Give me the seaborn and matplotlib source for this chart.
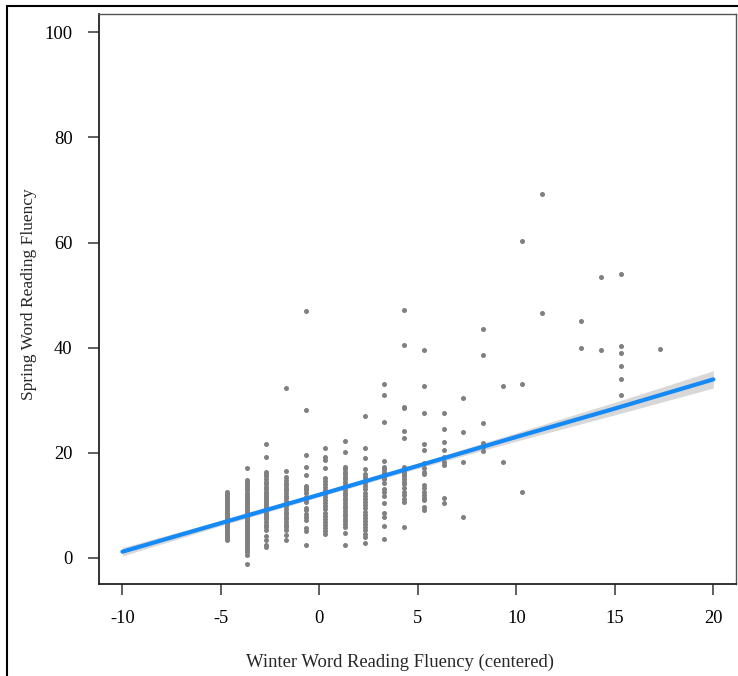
import numpy as np
import pandas as pd
import matplotlib
matplotlib.use("Agg")
import matplotlib.pyplot as plt
from matplotlib.lines import Line2D
import seaborn as sns

# ---- data ----
winter_levels = [-4.7, -3.7, -2.7, -1.7, -0.7, 0.3, 1.3, 2.3, 3.3, 4.3, 5.3,
                 6.3, 7.3, 8.3, 9.3, 10.3, 11.3, 13.3, 14.3, 15.3, 17.3]

spring_m4_7 = [3.3, 3.7, 4.1, 4.5, 4.9, 5.2, 5.5, 5.8, 6.1, 6.4, 6.7, 7.0, 7.2, 7.5, 7.8,
               8.0, 8.3, 8.6, 8.9, 9.2, 9.5, 9.8, 10.1, 10.4, 10.7, 11.0, 11.4, 11.8, 12.2, 12.6]
spring_m3_7 = [-1.1, 0.6, 1.0, 1.4, 1.8, 2.2, 2.6, 3.0, 3.3, 3.6, 3.9, 4.2, 4.5, 4.8, 5.1,
               5.4, 5.7, 6.0, 6.3, 6.6, 6.9, 7.2, 7.5, 7.8, 8.1, 8.4, 8.7, 9.0, 9.3, 9.6,
               9.9, 10.2, 10.5, 10.8, 11.1, 11.4, 11.7, 12.0, 12.4, 12.8, 13.2, 13.6, 14.0,
               14.4, 14.8, 17.0]
spring_m2_7 = [2.1, 2.5, 3.4, 4.1, 5.3, 5.8, 6.3, 6.8, 7.3, 7.8, 8.2, 8.6, 9.0, 9.4, 9.8,
               10.2, 10.6, 11.0, 11.4, 11.8, 12.2, 12.6, 13.0, 13.5, 14.0, 14.5, 15.0, 15.5,
               16.0, 16.4, 19.1, 21.6]
spring_m1_7 = [3.4, 4.3, 5.3, 5.8, 6.3, 6.8, 7.3, 7.8, 8.3, 8.8, 9.3, 9.8, 10.3, 10.8, 11.3,
               11.8, 12.3, 12.8, 13.3, 13.8, 14.3, 14.8, 15.4, 16.6, 32.4]
spring_m0_7 = [2.5, 5.0, 5.6, 7.2, 7.8, 8.4, 9.0, 9.5, 10.6, 11.0, 11.5, 12.3, 12.8, 13.2,
               13.7, 15.7, 17.2, 19.6, 28.2, 47.0]
spring_0_3 = [4.6, 5.0, 5.6, 6.2, 6.8, 7.4, 8.0, 8.6, 9.2, 9.8, 10.4, 11.0, 11.6, 12.2, 12.8,
              13.4, 14.0, 14.6, 15.1, 17.1, 18.6, 19.1, 20.8]
spring_1_3 = [2.5, 4.8, 5.9, 6.4, 6.9, 7.4, 7.9, 8.4, 8.9, 9.4, 9.9, 10.4, 10.9, 11.4, 11.9,
              12.4, 12.9, 13.4, 13.9, 14.4, 14.9, 15.4, 15.9, 16.4, 16.8, 17.2, 20.2, 22.2]
spring_2_3 = [2.8, 4.0, 4.6, 5.2, 5.8, 6.4, 7.0, 7.6, 8.2, 8.8, 9.4, 10.0, 10.6, 11.2, 11.8,
              12.4, 13.0, 13.6, 14.2, 14.8, 15.4, 16.0, 16.8, 19.0, 20.8, 26.9]
spring_3_3 = [3.6, 6.1, 7.8, 8.5, 10.5, 11.8, 12.6, 13.0, 14.3, 14.9, 15.4, 16.0, 16.4, 16.8,
              17.2, 18.5, 25.9, 30.9, 33.0]
spring_4_3 = [5.8, 10.6, 11.2, 12.0, 12.5, 13.2, 14.0, 14.5, 15.0, 15.5, 16.0, 16.4, 16.8,
              17.2, 22.7, 24.1, 28.5, 28.7, 40.5, 47.1]
spring_5_3 = [9.1, 9.7, 11.0, 11.3, 11.9, 12.6, 13.2, 13.8, 15.9, 16.4, 17.0, 18.0, 20.5,
              21.7, 27.5, 32.6, 39.6]
spring_6_3 = [10.5, 11.4, 17.7, 18.3, 19.2, 20.5, 22.0, 24.6, 27.5]
spring_7_3 = [7.7, 18.3, 24.0, 30.5]
spring_8_3 = [20.4, 21.1, 21.8, 25.6, 38.5, 43.6]
spring_9_3 = [18.3, 32.6]
spring_10_3 = [12.5, 33.0, 60.2]
spring_11_3 = [46.6, 69.3]
spring_13_3 = [40.0, 45.0]
spring_14_3 = [39.6, 53.4]
spring_15_3 = [31.0, 34.1, 36.5, 38.9, 40.4, 54.1]
spring_17_3 = [39.7]

spring_by_level = [spring_m4_7, spring_m3_7, spring_m2_7, spring_m1_7, spring_m0_7,
                   spring_0_3, spring_1_3, spring_2_3, spring_3_3, spring_4_3, spring_5_3,
                   spring_6_3, spring_7_3, spring_8_3, spring_9_3, spring_10_3, spring_11_3,
                   spring_13_3, spring_14_3, spring_15_3, spring_17_3]

# model prediction with confidence band
pred_x = [-10, -5, 0, 5, 10, 15, 20]
pred_y = [1.15, 6.6, 12.0, 17.5, 23.0, 28.4, 33.95]
pred_lo = [0.35, 6.1, 11.6, 17.0, 22.2, 27.2, 32.3]
pred_hi = [1.95, 7.1, 12.4, 18.0, 23.8, 29.6, 35.6]

x_ticks = [-10, -5, 0, 5, 10, 15, 20]
y_ticks = [0, 20, 40, 60, 80, 100]
x_label = "Winter Word Reading Fluency (centered)"
y_label = "Spring Word Reading Fluency"

rows = []
for lvl, vals in zip(winter_levels, spring_by_level):
    for v in vals:
        rows.append((lvl, v))
df = pd.DataFrame(rows, columns=["winter", "spring"])
pred = pd.DataFrame({"x": pred_x, "y": pred_y, "lo": pred_lo, "hi": pred_hi})

# ---- figure ----
sns.set_theme(style="white")
plt.rcParams["font.family"] = ["Liberation Serif", "DejaVu Serif"]

W, H = 738, 676
fig = plt.figure(figsize=(W / 100, H / 100), dpi=100)
ax = fig.add_axes([99 / W, 1 - 584 / H, (736 - 99) / W, (584 - 13.5) / H])

ax.fill_between(pred["x"], pred["lo"], pred["hi"], color="#d4d4d4", alpha=0.9,
                linewidth=0, zorder=1)
sns.scatterplot(data=df, x="winter", y="spring", ax=ax, color="#808080", s=13,
                linewidth=0, zorder=2, legend=False)
sns.lineplot(data=pred, x="x", y="y", ax=ax, color="#1589F5", linewidth=3.0, zorder=3)

ax.set_xlim(-11.19, 21.15)
ax.set_ylim(-5.0, 103.6)
ax.set_xticks(x_ticks)
ax.set_yticks(y_ticks)
ax.set_xticklabels([f"{t}" for t in x_ticks])
ax.set_yticklabels([f"{t}" for t in y_ticks])
ax.set_xlabel("")
ax.set_ylabel("")
ax.tick_params(axis="both", which="major", direction="out", length=8, width=1.2,
               color="#444444", labelsize=13.3, labelcolor="black", pad=11)
ax.tick_params(axis="x", bottom=True)
ax.tick_params(axis="y", left=True)

for side in ["left", "bottom"]:
    ax.spines[side].set_color("#222222")
    ax.spines[side].set_linewidth(1.3)
for side in ["top", "right"]:
    ax.spines[side].set_color("#555555")
    ax.spines[side].set_linewidth(1.0)

fig.text(399.7 / W, 1 - 662 / H, x_label, ha="center", va="center", fontsize=13.4)
fig.text(29 / W, 1 - 294 / H, y_label, ha="center", va="center", rotation=90,
         fontsize=12.5)

# outer frame lines (top and left)
fig.add_artist(Line2D([7 / W, 1.0], [1 - 6 / H, 1 - 6 / H], color="black",
                      linewidth=1.5, transform=fig.transFigure))
fig.add_artist(Line2D([7 / W, 7 / W], [0.0, 1 - 6 / H], color="black",
                      linewidth=1.5, transform=fig.transFigure))

fig.savefig("out.png", dpi=100)
